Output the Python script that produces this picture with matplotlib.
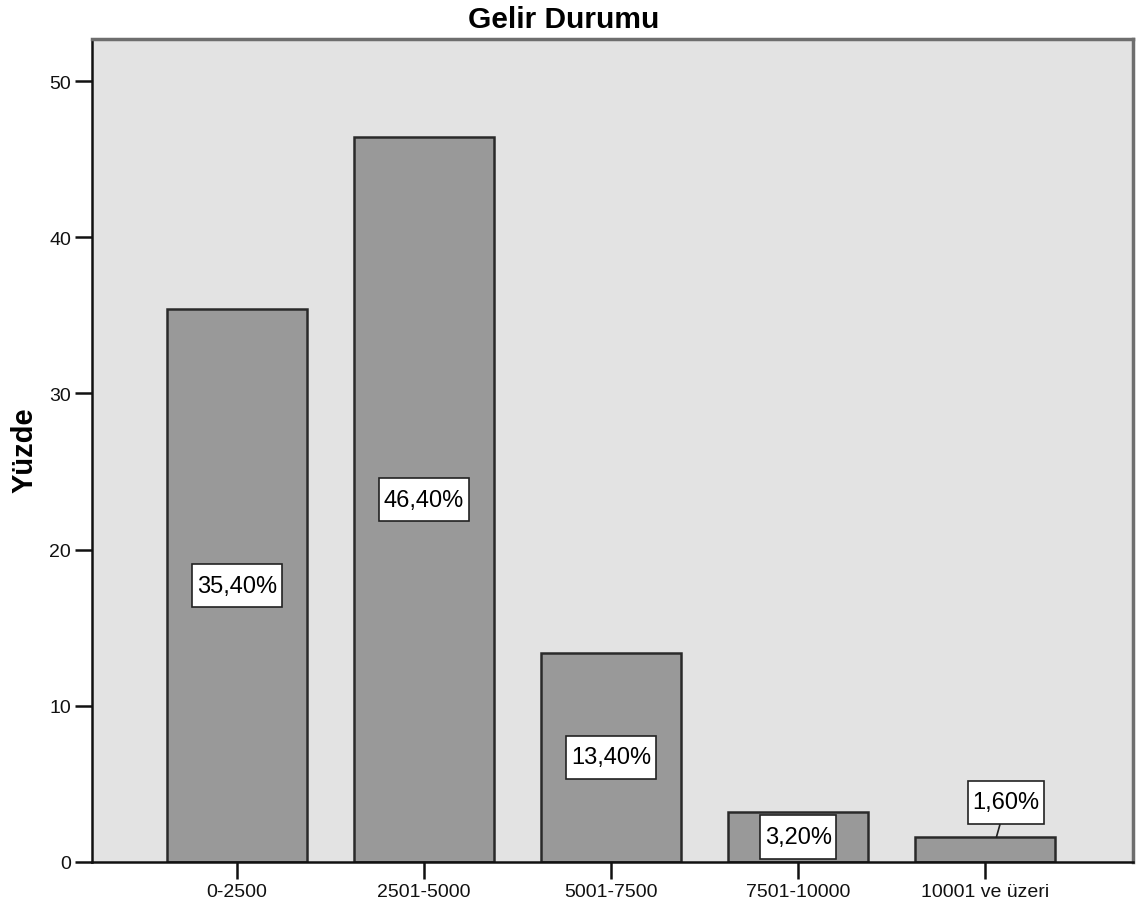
import matplotlib.pyplot as plt
from matplotlib.path import Path

plt.rcParams['font.family'] = ['Liberation Sans', 'DejaVu Sans']

# Gelir Durumu - yuzde dagilimi
categories = ['0-2500', '2501-5000', '5001-7500', '7501-10000', '10001 ve üzeri']
percents = [35.4, 46.4, 13.4, 3.2, 1.6]
value_labels = ['35,40%', '46,40%', '13,40%', '3,20%', '1,60%']
y_ticks = [0, 10, 20, 30, 40, 50]


def tall_box(x0, y0, width, height, mutation_size):
    # SPSS etiket kutusu: yatayda dar, dikeyde genis bosluk
    px = 0.2 * mutation_size
    py = 0.45 * mutation_size
    x1, y1 = x0 - px, y0 - py
    x2, y2 = x0 + width + px, y0 + height + py
    return Path([(x1, y1), (x2, y1), (x2, y2), (x1, y2), (x1, y1)], closed=True)


fig = plt.figure(figsize=(11.37, 9.12), dpi=100)
ax = fig.add_axes([92 / 1137, 49 / 912, 1041 / 1137, 823 / 912])
ax.set_facecolor('#e3e3e3')

x = list(range(len(categories)))
ax.bar(x, percents, width=0.75, color='#999999', edgecolor='#2a2a2a',
       linewidth=1.8, zorder=2)

ax.set_xlim(-0.775, 4.79)
ax.set_ylim(0, 52.7)
ax.set_xticks(x)
ax.set_xticklabels(categories)
ax.set_yticks(y_ticks)
ax.tick_params(axis='both', direction='out', length=12, width=1.8,
               labelsize=14, colors='#111111', pad=3)

for side in ['top', 'right']:
    ax.spines[side].set_color('#6e6e6e')
    ax.spines[side].set_linewidth(2.5)
for side in ['left', 'bottom']:
    ax.spines[side].set_color('#111111')
    ax.spines[side].set_linewidth(1.8)

box = dict(boxstyle=tall_box, facecolor='white', edgecolor='#222222', linewidth=1.2)

# etiketler: ilk dordu cubuk ortasinda, sonuncusu cubugun ustunde
for i, (v, lab) in enumerate(zip(percents, value_labels)):
    if i < 4:
        ax.text(i, v / 2, lab, ha='center', va='center', fontsize=17,
                bbox=box, zorder=4)
    else:
        ax.annotate(lab, xy=(i + 0.06, v), xytext=(7, 25), textcoords='offset points',
                    ha='center', va='center', fontsize=17, bbox=box, zorder=4,
                    arrowprops=dict(arrowstyle='-', color='#222222', lw=1.2,
                                    shrinkA=0, shrinkB=0))

fig.text(564 / 1137, 1 - 20 / 912, 'Gelir Durumu', ha='center', va='center',
         fontsize=21.5, fontweight='bold')
fig.text(25 / 1137, 1 - 450 / 912, 'Yüzde', ha='center', va='center',
         rotation=90, fontsize=21, fontweight='bold')

fig.savefig('out.png', dpi=100)
